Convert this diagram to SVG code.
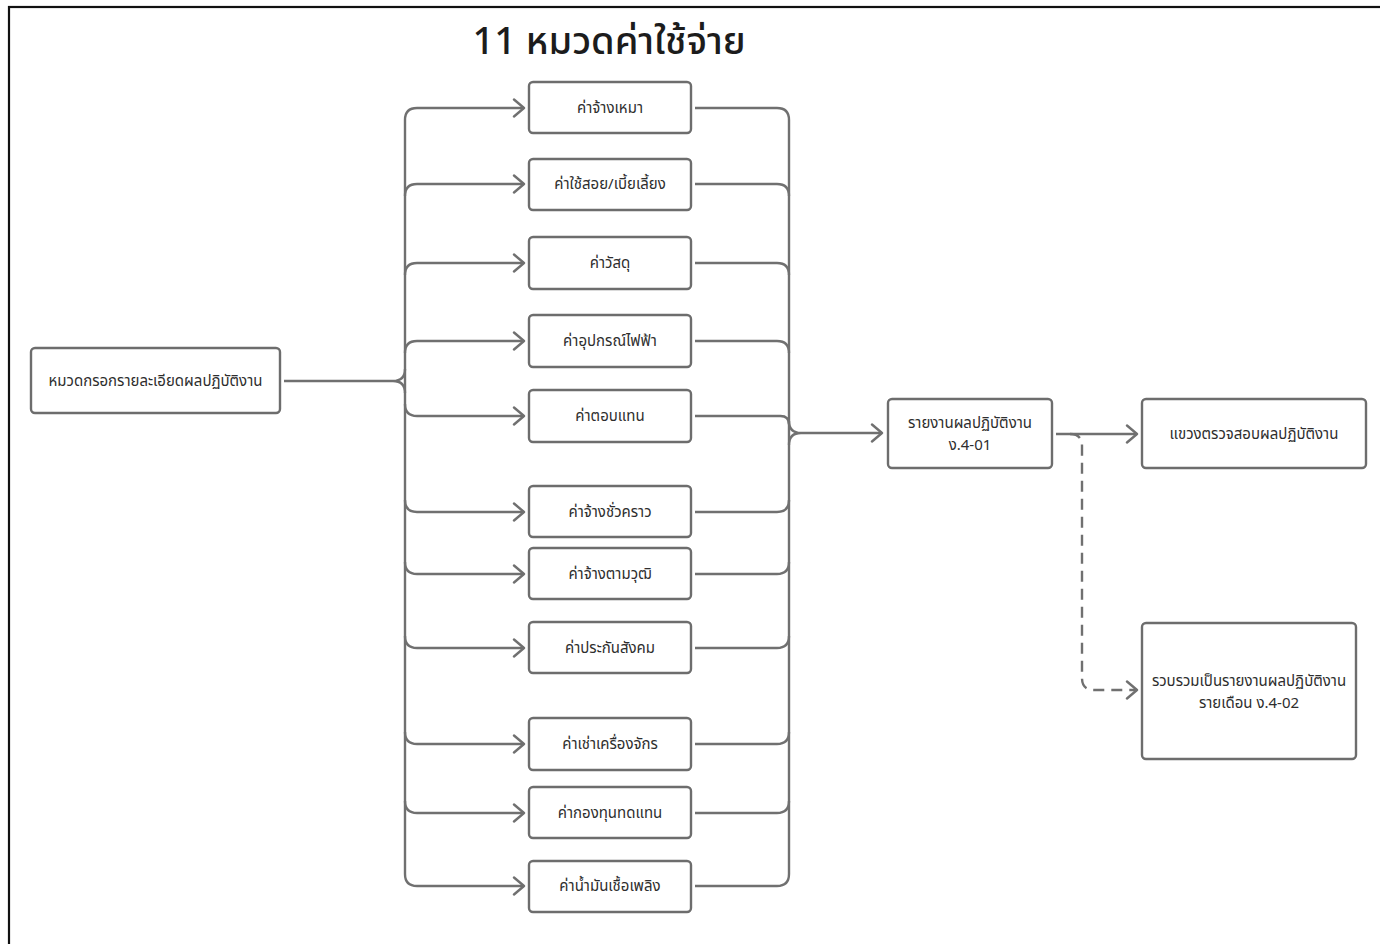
<svg xmlns="http://www.w3.org/2000/svg" width="1380" height="944" viewBox="0 0 1380 944">
  <defs>
    <style>
      .frame { fill: none; stroke: #111; stroke-width: 2.2; }
      .box { fill: #fff; stroke: #6d6d6d; stroke-width: 2.4; }
      .wire { fill: none; stroke: #707070; stroke-width: 2.4; stroke-linejoin: round; }
      .dash { stroke-dasharray: 11 7; }
      .lbl { font-family: "Noto Sans Thai", "Noto Sans", "Liberation Sans", sans-serif; font-size: 15px; fill: #2e2e2e; text-anchor: middle; dominant-baseline: central; }
      .title { font-family: "Noto Sans Thai", "Noto Sans", "Liberation Sans", sans-serif; font-size: 38px; font-weight: 500; fill: #1c1c1c; text-anchor: middle; }
    </style>
    <marker id="arrow" markerUnits="userSpaceOnUse" markerWidth="20" markerHeight="20" viewBox="-12 -10 14 20" refX="0" refY="0" orient="auto">
      <path d="M-10,-8.5 L0,0 L-10,8.5" fill="none" stroke="#707070" stroke-width="2.4" stroke-linejoin="round" stroke-linecap="round"/>
    </marker>
  </defs>

  <rect width="1380" height="944" fill="#fff"/>
  <!-- page frame (only top and left edges fall inside the view) -->
  <rect class="frame" x="9" y="7" width="1400" height="960"/>

  <text class="title" x="609" y="54">11 หมวดค่าใช้จ่าย</text>

  <!-- connectors: shared trunks are drawn once, branches hang off them -->
  <g id="connectors">
    <!-- source stem splitting onto the left trunk -->
    <path class="wire" d="M284 381 H393 Q405 381 405 369 M393 381 Q405 381 405 393"/>
    <path class="wire" d="M405 120 V874"/>
    <path class="wire" marker-end="url(#arrow)" d="M405 120 Q405 108 417 108 H524"/>
    <path class="wire" marker-end="url(#arrow)" d="M405 196 Q405 184 417 184 H524"/>
    <path class="wire" marker-end="url(#arrow)" d="M405 275 Q405 263 417 263 H524"/>
    <path class="wire" marker-end="url(#arrow)" d="M405 353 Q405 341 417 341 H524"/>
    <path class="wire" marker-end="url(#arrow)" d="M405 404 Q405 416 417 416 H524"/>
    <path class="wire" marker-end="url(#arrow)" d="M405 500 Q405 512 417 512 H524"/>
    <path class="wire" marker-end="url(#arrow)" d="M405 562 Q405 574 417 574 H524"/>
    <path class="wire" marker-end="url(#arrow)" d="M405 636 Q405 648 417 648 H524"/>
    <path class="wire" marker-end="url(#arrow)" d="M405 732 Q405 744 417 744 H524"/>
    <path class="wire" marker-end="url(#arrow)" d="M405 801 Q405 813 417 813 H524"/>
    <path class="wire" marker-end="url(#arrow)" d="M405 874 Q405 886 417 886 H524"/>

    <!-- categories joining the right trunk -->
    <path class="wire" d="M695 108 H777 Q789 108 789 120"/>
    <path class="wire" d="M695 184 H777 Q789 184 789 196"/>
    <path class="wire" d="M695 263 H777 Q789 263 789 275"/>
    <path class="wire" d="M695 341 H777 Q789 341 789 353"/>
    <path class="wire" d="M695 416 H780.5 Q789 416 789 424.5"/>
    <path class="wire" d="M695 512 H777 Q789 512 789 500"/>
    <path class="wire" d="M695 574 H777 Q789 574 789 562"/>
    <path class="wire" d="M695 648 H777 Q789 648 789 636"/>
    <path class="wire" d="M695 744 H777 Q789 744 789 732"/>
    <path class="wire" d="M695 813 H777 Q789 813 789 801"/>
    <path class="wire" d="M695 886 H777 Q789 886 789 874"/>
    <path class="wire" d="M789 120 V874"/>
    <!-- trunk merging into the report -->
    <path class="wire" d="M789 421 Q789 433 801 433 M789 445 Q789 433 801 433"/>
    <path class="wire" marker-end="url(#arrow)" d="M801 433 H882"/>

    <!-- report onward -->
    <path class="wire" marker-end="url(#arrow)" d="M1056 434 H1137"/>
    <path class="wire dash" marker-end="url(#arrow)" d="M1070 434 Q1082 434 1082 446 V678 Q1082 690 1094 690 H1137"/>
  </g>

  <g id="node-source">
    <rect class="box" x="31" y="348" width="249" height="65" rx="4"/>
    <text class="lbl" x="155.5" y="381">หมวดกรอกรายละเอียดผลปฏิบัติงาน</text>
  </g>

  <g id="node-c01">
    <rect class="box" x="529" y="82" width="162" height="51" rx="4"/>
    <text class="lbl" x="610" y="108">ค่าจ้างเหมา</text>
  </g>
  <g id="node-c02">
    <rect class="box" x="529" y="159" width="162" height="51" rx="4"/>
    <text class="lbl" x="610" y="184">ค่าใช้สอย/เบี้ยเลี้ยง</text>
  </g>
  <g id="node-c03">
    <rect class="box" x="529" y="237" width="162" height="52" rx="4"/>
    <text class="lbl" x="610" y="263">ค่าวัสดุ</text>
  </g>
  <g id="node-c04">
    <rect class="box" x="529" y="315" width="162" height="52" rx="4"/>
    <text class="lbl" x="610" y="341">ค่าอุปกรณ์ไฟฟ้า</text>
  </g>
  <g id="node-c05">
    <rect class="box" x="529" y="390" width="162" height="52" rx="4"/>
    <text class="lbl" x="610" y="416">ค่าตอบแทน</text>
  </g>
  <g id="node-c06">
    <rect class="box" x="529" y="486" width="162" height="51" rx="4"/>
    <text class="lbl" x="610" y="512">ค่าจ้างชั่วคราว</text>
  </g>
  <g id="node-c07">
    <rect class="box" x="529" y="548" width="162" height="51" rx="4"/>
    <text class="lbl" x="610" y="574">ค่าจ้างตามวุฒิ</text>
  </g>
  <g id="node-c08">
    <rect class="box" x="529" y="622" width="162" height="51" rx="4"/>
    <text class="lbl" x="610" y="648">ค่าประกันสังคม</text>
  </g>
  <g id="node-c09">
    <rect class="box" x="529" y="718" width="162" height="52" rx="4"/>
    <text class="lbl" x="610" y="744">ค่าเช่าเครื่องจักร</text>
  </g>
  <g id="node-c10">
    <rect class="box" x="529" y="787" width="162" height="51" rx="4"/>
    <text class="lbl" x="610" y="813">ค่ากองทุนทดแทน</text>
  </g>
  <g id="node-c11">
    <rect class="box" x="529" y="861" width="162" height="51" rx="4"/>
    <text class="lbl" x="610" y="886">ค่าน้ำมันเชื้อเพลิง</text>
  </g>

  <g id="node-report">
    <rect class="box" x="888" y="399" width="164" height="69" rx="4"/>
    <text class="lbl" x="970" y="423">รายงานผลปฏิบัติงาน</text>
    <text class="lbl" x="970" y="445">ง.4-01</text>
  </g>

  <g id="node-review">
    <rect class="box" x="1142" y="399" width="224" height="69" rx="4"/>
    <text class="lbl" x="1254" y="434">แขวงตรวจสอบผลปฏิบัติงาน</text>
  </g>

  <g id="node-monthly">
    <rect class="box" x="1142" y="623" width="214" height="136" rx="4"/>
    <text class="lbl" x="1249" y="681">รวบรวมเป็นรายงานผลปฏิบัติงาน</text>
    <text class="lbl" x="1249" y="703">รายเดือน ง.4-02</text>
  </g>
</svg>
